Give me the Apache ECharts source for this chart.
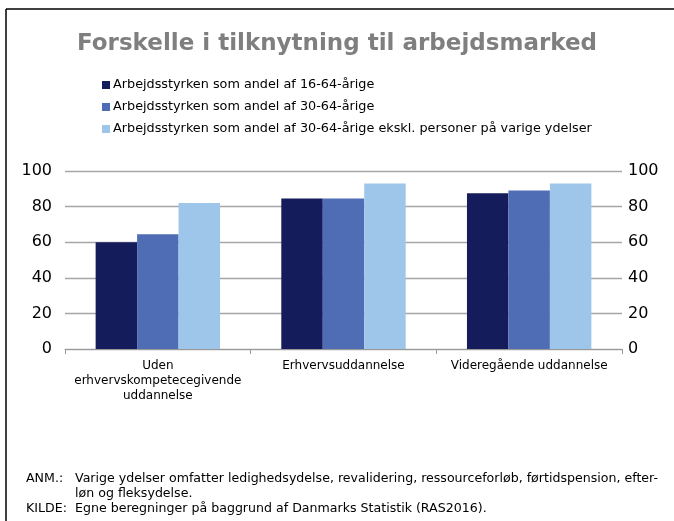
<!DOCTYPE html>
<html>
<head>
<meta charset="utf-8">
<script src="https://cdn.jsdelivr.net/npm/echarts@6/dist/echarts.min.js"></script>
<style>
html, body { margin: 0; padding: 0; background: #fff; }
#chart { width: 674px; height: 521px; }
</style>
</head>
<body>
<div id="chart"></div>
<script>
// kategorier og serier
var categories = ['Uden\nerhvervskompetecegivende\nuddannelse', 'Erhvervsuddannelse', 'Videregående uddannelse'];
var seriesNames = [
	'Arbejdsstyrken som andel af 16-64-årige',
	'Arbejdsstyrken som andel af 30-64-årige',
	'Arbejdsstyrken som andel af 30-64-årige ekskl. personer på varige ydelser'
];
var andel1664 = [60, 84.5, 87.5];
var andel3064 = [64.5, 84.5, 89];
var andelEkskl = [82, 93, 93];
var yTicks = [0, 20, 40, 60, 80, 100];

var colors = ['#141C5B', '#4F6DB4', '#9DC6EA'];
var font = 'DejaVu Sans';
var noteFont = '12.6px "DejaVu Sans"';

var myChart = echarts.init(document.getElementById('chart'));

function bar(name, data, idx) {
	return {
		name: name,
		type: 'bar',
		data: data,
		barGap: '0%',
		barCategoryGap: '33%',
		itemStyle: { color: colors[idx] }
	};
}

function note(x, y, txt) {
	return { type: 'text', x: x, y: y, style: { text: txt, font: noteFont, fill: '#000', textVerticalAlign: 'middle' } };
}

var option = {
	animation: false,
	backgroundColor: '#fff',
	title: {
		text: 'Forskelle i tilknytning til arbejdsmarked',
		left: 'center',
		top: 28,
		textStyle: { fontFamily: font, fontWeight: 'bold', fontSize: 23, color: '#7F7F7F' }
	},
	legend: {
		orient: 'vertical',
		left: 97,
		top: 73,
		icon: 'rect',
		itemWidth: 8,
		itemHeight: 8,
		itemGap: 8,
		data: seriesNames,
		textStyle: { fontFamily: font, fontSize: 12.8, color: '#000', lineHeight: 14, padding: [0, 0, 0, -2] }
	},
	grid: { left: 65, right: 52, top: 171, bottom: 172 },
	xAxis: {
		type: 'category',
		data: categories,
		axisLine: { lineStyle: { color: '#999', width: 1 } },
		axisTick: { show: true, length: 5, lineStyle: { color: '#999' } },
		axisLabel: { fontFamily: font, fontSize: 12, color: '#000', lineHeight: 15, margin: 9, interval: 0 }
	},
	yAxis: [
		{
			type: 'value', min: 0, max: 100, interval: 20,
			axisLine: { show: false }, axisTick: { show: false },
			splitLine: { lineStyle: { color: '#A6A6A6', width: 1.3 } },
			axisLabel: { fontFamily: font, fontSize: 16, color: '#000', margin: 13,
				formatter: function (v) { return yTicks.indexOf(v) >= 0 ? v : ''; } }
		},
		{
			type: 'value', min: 0, max: 100, interval: 20, position: 'right',
			axisLine: { show: false }, axisTick: { show: false },
			splitLine: { show: false },
			axisLabel: { fontFamily: font, fontSize: 16, color: '#000', margin: 6 }
		}
	],
	series: [
		bar(seriesNames[0], andel1664, 0),
		bar(seriesNames[1], andel3064, 1),
		bar(seriesNames[2], andelEkskl, 2)
	],
	graphic: [
		{ type: 'line', shape: { x1: 6, y1: 9, x2: 674, y2: 9 }, style: { stroke: '#000', lineWidth: 1.5 } },
		{ type: 'line', shape: { x1: 6, y1: 9, x2: 6, y2: 521 }, style: { stroke: '#000', lineWidth: 1.5 } },
		note(26, 479, 'ANM.:'),
		note(75, 479, 'Varige ydelser omfatter ledighedsydelse, revalidering, ressourceforløb, førtidspension, efter-'),
		note(75, 494, 'løn og fleksydelse.'),
		note(26, 509, 'KILDE:'),
		note(75, 509, 'Egne beregninger på baggrund af Danmarks Statistik (RAS2016).')
	]
};
myChart.setOption(option);
</script>
</body>
</html>
